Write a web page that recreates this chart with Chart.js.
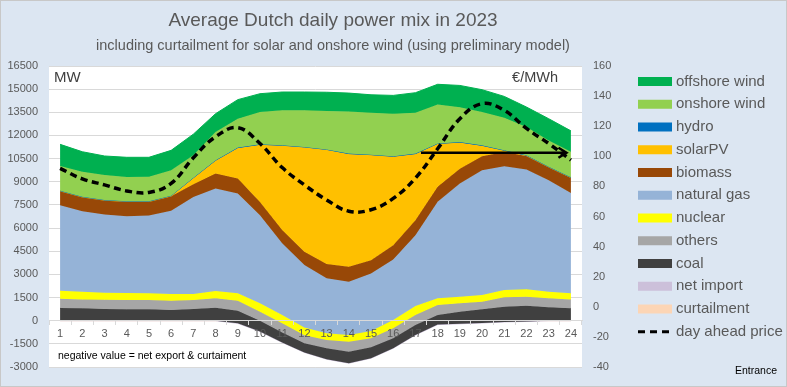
<!DOCTYPE html>
<html>
<head>
<meta charset="utf-8">
<script src="https://cdn.jsdelivr.net/npm/chart.js@4"></script>
<style>
  html, body { margin: 0; padding: 0; background: #dce6f2; }
  #wrap { width: 787px; height: 387px; }
</style>
</head>
<body>
<div id="wrap"><canvas id="mixChart" width="787" height="387"></canvas></div>
<script>
const hours = ['1','2','3','4','5','6','7','8','9','10','11','12','13','14','15','16','17','18','19','20','21','22','23','24'];

// MW per hour, stacked bottom -> top
const curtailment = [0,0,0,0,0,0,0,0,0,-50,-150,-300,-400,-400,-300,-150,-50,0,0,0,0,0,0,0];
const netImport = [0,0,0,0,0,0,0,0,-170,-650,-1260,-1755,-2095,-2355,-2130,-1635,-875,-250,-200,-150,-80,-50,0,0];
const coal = [820,800,760,740,740,690,760,840,815,690,650,595,710,750,710,650,650,620,780,890,985,1020,870,800];
const others = [600,580,600,600,600,600,580,610,645,590,595,520,540,645,580,645,645,645,545,490,610,580,580,580];
const nuclear = [520,490,450,450,435,435,390,470,480,545,535,505,435,435,470,535,580,435,425,435,470,480,425,390];
const naturalGas = [5540,5220,5070,4980,5040,5390,6290,6640,6470,5710,4640,4040,3560,3450,3730,3925,4590,6250,7330,8080,8020,7760,7220,6500];
const biomass = [925,925,925,950,905,950,820,970,970,860,860,860,925,970,860,925,970,970,970,905,925,880,860,1000];
const solarPV = [0,0,0,0,0,15,400,840,1985,3710,5475,6770,7400,7310,6815,5735,4295,2790,1700,690,90,25,0,0];
const hydro = [20,20,20,20,20,20,20,20,20,20,20,20,20,20,20,20,20,20,20,20,20,20,20,20];
const onshoreWind = [1600,1615,1615,1570,1590,1640,1450,1830,1875,2090,2265,2375,2495,2735,2715,2760,2650,2520,2265,2155,2115,1830,1705,1655];
const offshoreWind = [1400,1295,1230,1275,1255,1295,1375,1190,1230,1190,1185,1185,1210,1185,1165,1185,1295,1315,1405,1450,1375,1295,1405,1355];

// €/MWh
const dayAheadPrice = [92,85,81,77,76,82,99,113,119,108.5,92.5,81,71,63.5,64.5,72,85.5,105,125,135,130.5,118.5,108.5,97.5];

// arrow drawn in the original (price level, from/to in category index units)
const arrowPrice = 102.4, arrowFrom = 16.25, arrowTo = 22.8;

const FONT = "'Liberation Sans', Arial, sans-serif";
const TXT = '#595959';

const series = [
  { label: 'curtailment', data: curtailment, color: '#fcd5b5' },
  { label: 'net import', data: netImport, color: '#ccc0da' },
  { label: 'coal', data: coal, color: '#404040' },
  { label: 'others', data: others, color: '#a6a6a6' },
  { label: 'nuclear', data: nuclear, color: '#ffff00' },
  { label: 'natural gas', data: naturalGas, color: '#95b3d7' },
  { label: 'biomass', data: biomass, color: '#984807' },
  { label: 'solarPV', data: solarPV, color: '#ffc000' },
  { label: 'hydro', data: hydro, color: '#0070c0' },
  { label: 'onshore wind', data: onshoreWind, color: '#92d050' },
  { label: 'offshore wind', data: offshoreWind, color: '#00b050' }
];

// Excel-style stacked area: plain running sum, earlier series drawn underneath
let running = hours.map(() => 0);
const areaSets = series.map((s, i) => {
  running = running.map((v, k) => v + s.data[k]);
  return {
    label: s.label,
    data: running.slice(),
    yAxisID: 'y',
    backgroundColor: s.color,
    borderColor: s.color,
    borderWidth: 1,
    fill: i === 0 ? 'origin' : '-1',
    pointRadius: 0,
    tension: 0,
    order: series.length - i + 1
  };
});

const priceSet = {
  label: 'day ahead price',
  data: dayAheadPrice,
  yAxisID: 'y2',
  borderColor: '#000',
  borderWidth: 3.5,
  borderDash: [7, 4.5],
  fill: false,
  pointRadius: 0,
  tension: 0.4,
  order: 0
};

const decor = {
  id: 'decor',
  beforeDraw(chart) {
    const { ctx, chartArea: a } = chart;
    ctx.save();
    ctx.fillStyle = '#dce6f2';
    ctx.fillRect(0, 0, chart.width, chart.height);
    ctx.strokeStyle = '#c8c8c8';
    ctx.lineWidth = 1;
    ctx.strokeRect(0.5, 0.5, chart.width - 1, chart.height - 1);
    ctx.fillStyle = '#fff';
    ctx.fillRect(a.left, a.top, a.right - a.left, a.bottom - a.top);
    ctx.restore();
  },
  afterDatasetsDraw(chart) {
    const { ctx, scales } = chart;
    const y = scales.y2.getPixelForValue(arrowPrice);
    const x1 = scales.x.getPixelForValue(arrowFrom);
    const x2 = scales.x.getPixelForValue(arrowTo);
    ctx.save();
    ctx.strokeStyle = '#000';
    ctx.lineWidth = 2.5;
    ctx.lineJoin = 'miter';
    ctx.beginPath();
    ctx.moveTo(x1, y);
    ctx.lineTo(x2 - 1, y);
    ctx.stroke();
    ctx.beginPath();
    ctx.moveTo(x2 - 8, y - 5);
    ctx.lineTo(x2, y);
    ctx.lineTo(x2 - 8, y + 5);
    ctx.stroke();
    ctx.restore();
  },
  afterDraw(chart) {
    const { ctx, chartArea: a } = chart;
    ctx.save();
    ctx.textBaseline = 'middle';
    ctx.fillStyle = TXT;
    ctx.textAlign = 'center';
    ctx.font = '19px ' + FONT;
    ctx.fillText('Average Dutch daily power mix in 2023', 333, 21);
    ctx.font = '14.5px ' + FONT;
    ctx.fillText('including curtailment for solar and onshore wind (using preliminary model)', 333, 46);

    ctx.fillStyle = '#404040';
    ctx.textAlign = 'left';
    ctx.font = '15px ' + FONT;
    ctx.fillText('MW', a.left + 5, 78);
    ctx.textAlign = 'right';
    ctx.font = '14.5px ' + FONT;
    ctx.fillText('€/MWh', a.right - 24, 78);

    ctx.fillStyle = '#000';
    ctx.textAlign = 'left';
    ctx.font = '10.5px ' + FONT;
    ctx.fillText('negative value = net export & curtaiment', a.left + 9, 356);
    ctx.fillText('Entrance', 735, 371);

    // legend
    const items = series.slice().reverse();
    const lx = 638, step = 22.75;
    let ly = 81.5;
    ctx.font = '15px ' + FONT;
    items.forEach(it => {
      ctx.fillStyle = it.color;
      ctx.fillRect(lx, ly - 4.5, 34, 9);
      ctx.fillStyle = TXT;
      ctx.fillText(it.label, lx + 38, ly);
      ly += step;
    });
    ctx.strokeStyle = '#000';
    ctx.lineWidth = 3;
    ctx.setLineDash([7, 5]);
    ctx.beginPath();
    ctx.moveTo(lx, ly);
    ctx.lineTo(lx + 34, ly);
    ctx.stroke();
    ctx.setLineDash([]);
    ctx.fillStyle = TXT;
    ctx.fillText('day ahead price', lx + 38, ly);
    ctx.restore();
  }
};

const tickFont = { family: FONT, size: 11 };

new Chart(document.getElementById('mixChart'), {
  type: 'line',
  data: { labels: hours, datasets: areaSets.concat([priceSet]) },
  options: {
    responsive: false,
    animation: false,
    layout: { padding: { top: 66, bottom: 20, left: 0, right: 0 } },
    plugins: {
      legend: { display: false },
      title: { display: false },
      tooltip: { enabled: false },
      filler: { propagate: false }
    },
    scales: {
      x: {
        type: 'category',
        offset: true,
        position: { y: 0 },
        grid: { display: true, drawOnChartArea: false, drawTicks: true, tickLength: 4, offset: true, color: '#d9d9d9', z: 1 },
        border: { display: true, color: '#d9d9d9', z: 1 },
        ticks: { color: TXT, font: tickFont, padding: 3, maxRotation: 0, autoSkip: false, z: 1 }
      },
      y: {
        position: 'left',
        min: -3000,
        max: 16500,
        ticks: { stepSize: 1500, color: TXT, font: tickFont, padding: 11, callback: v => String(v) },
        grid: { color: '#d9d9d9', drawTicks: false },
        border: { display: false },
        afterFit: s => { s.width = 49; }
      },
      y2: {
        position: 'right',
        min: -40,
        max: 160,
        ticks: { stepSize: 20, color: TXT, font: tickFont, padding: 11, callback: v => String(v) },
        grid: { display: false, drawTicks: false },
        border: { display: false },
        afterFit: s => { s.width = 205; }
      }
    }
  },
  plugins: [decor]
});
</script>
</body>
</html>
